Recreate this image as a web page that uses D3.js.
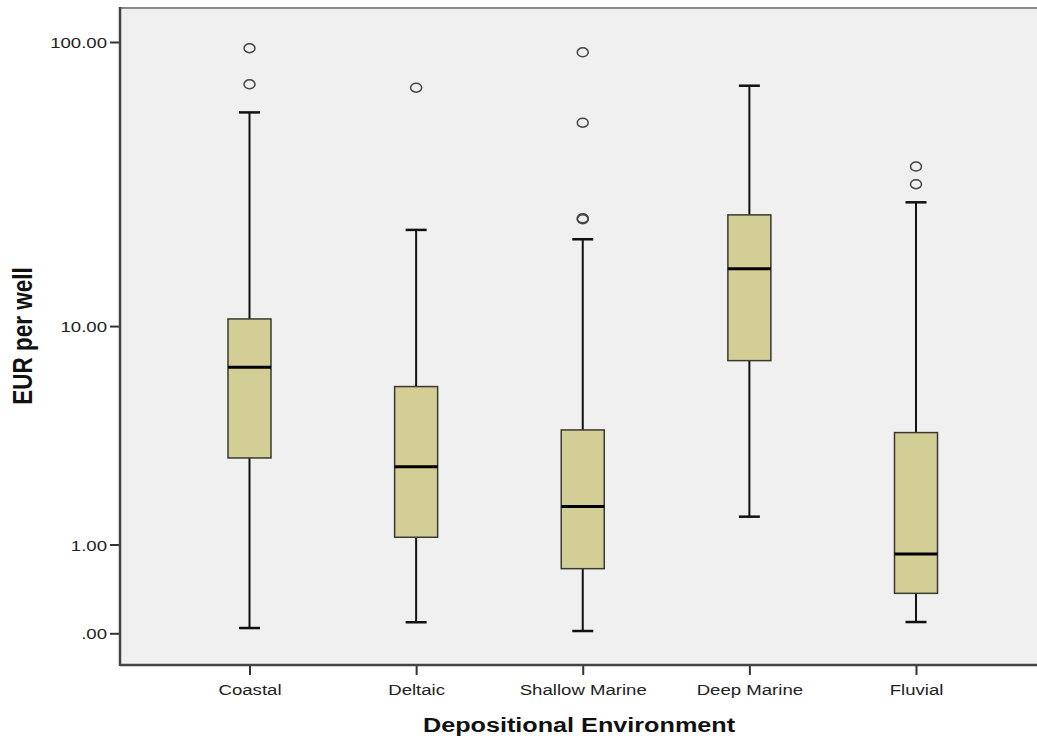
<!DOCTYPE html>
<html><head><meta charset="utf-8">
<script src="https://cdn.jsdelivr.net/npm/d3@7"></script>
<style>
html,body{margin:0;padding:0;background:#fff;}
svg{display:block;font-family:"Liberation Sans",Arial,sans-serif;}
</style></head>
<body>
<svg id="chart" width="1037" height="738"></svg>
<script>
// ---- data (EUR per well) ----
const categories  = ["Coastal", "Deltaic", "Shallow Marine", "Deep Marine", "Fluvial"];
const whiskerLow  = [0.042, 0.09, 0.018, 1.485, 0.092];
const q1          = [2.93, 1.116, 0.656, 7.40, 0.366];
const median      = [6.97, 2.67, 1.69, 16.2, 0.857];
const q3          = [10.63, 5.86, 3.89, 25.2, 3.79];
const whiskerHigh = [57.3, 22.3, 20.66, 70.8, 27.9];
const outliers    = [[95.2, 71.6], [69.7], [92.2, 52.8, 24.3, 24.5], [], [37.2, 32.3]];
const yTickValues = [0, 1, 10, 100];
const yTickLabels = [".00", "1.00", "10.00", "100.00"];
const xTitle = "Depositional Environment";
const yTitle = "EUR per well";

// ---- layout ----
const svg = d3.select("#chart");
const frame = {left: 120, top: 8, right: 1037, bottom: 665};
const SX = 1.2; // horizontal stretch of the reference text

const x = d3.scalePoint().domain(categories).range([249.5, 916]).padding(0);
const y = d3.scaleSymlog().constant(1).domain([0, 100]).range([633.3, 42]);

// plot background
svg.append("rect")
  .attr("x", frame.left).attr("y", frame.top)
  .attr("width", frame.right - frame.left).attr("height", frame.bottom - frame.top)
  .attr("fill", "#f0f0f0");
// top border
svg.append("line").attr("x1", frame.left).attr("x2", frame.right)
  .attr("y1", frame.top).attr("y2", frame.top)
  .attr("stroke", "#8a8a8a").attr("stroke-width", 2);

const boxes = categories.map((c, i) => ({
  c, lo: whiskerLow[i], q1: q1[i], med: median[i], q3: q3[i], hi: whiskerHigh[i], out: outliers[i]
}));

const boxW = 43, capW = 21;
const g = svg.append("g");
const bg = g.selectAll("g.box").data(boxes).join("g").attr("class", "box");

// whiskers
bg.append("line")
  .attr("x1", d => x(d.c)).attr("x2", d => x(d.c))
  .attr("y1", d => y(d.q3)).attr("y2", d => y(d.hi))
  .attr("stroke", "#111").attr("stroke-width", 2);
bg.append("line")
  .attr("x1", d => x(d.c)).attr("x2", d => x(d.c))
  .attr("y1", d => y(d.q1)).attr("y2", d => y(d.lo))
  .attr("stroke", "#111").attr("stroke-width", 2);
// caps
bg.append("line")
  .attr("x1", d => x(d.c) - capW / 2).attr("x2", d => x(d.c) + capW / 2)
  .attr("y1", d => y(d.hi)).attr("y2", d => y(d.hi))
  .attr("stroke", "#111").attr("stroke-width", 2.5);
bg.append("line")
  .attr("x1", d => x(d.c) - capW / 2).attr("x2", d => x(d.c) + capW / 2)
  .attr("y1", d => y(d.lo)).attr("y2", d => y(d.lo))
  .attr("stroke", "#111").attr("stroke-width", 2.5);
// box
bg.append("rect")
  .attr("x", d => x(d.c) - boxW / 2).attr("width", boxW)
  .attr("y", d => y(d.q3)).attr("height", d => y(d.q1) - y(d.q3))
  .attr("fill", "#d3ce96").attr("stroke", "#3a3a30").attr("stroke-width", 1.5);
// median
bg.append("line")
  .attr("x1", d => x(d.c) - boxW / 2).attr("x2", d => x(d.c) + boxW / 2)
  .attr("y1", d => y(d.med)).attr("y2", d => y(d.med))
  .attr("stroke", "#000").attr("stroke-width", 3);
// outliers
bg.selectAll("ellipse").data(d => d.out.map(v => ({c: d.c, v}))).join("ellipse")
  .attr("cx", d => x(d.c)).attr("cy", d => y(d.v))
  .attr("rx", 5.5).attr("ry", 4.5)
  .attr("fill", "none").attr("stroke", "#444").attr("stroke-width", 1.5);

// ---- axes ----
const yAxis = d3.axisLeft(y).tickValues(yTickValues)
  .tickFormat((d, i) => yTickLabels[i]).tickSize(10).tickPadding(3);
const ya = svg.append("g").attr("transform", `translate(${frame.left},0)`).call(yAxis);
ya.select(".domain").remove();
ya.selectAll(".tick line").attr("stroke", "#333").attr("stroke-width", 2);
ya.selectAll(".tick text")
  .attr("font-size", 15.5).attr("fill", "#222")
  .attr("font-family", "'Liberation Sans', Arial, sans-serif")
  .attr("dy", "0.36em")
  .attr("transform", function () { const xx = +d3.select(this).attr("x"); return `translate(${xx},0) scale(${SX},1) translate(${-xx},0)`; });

const xAxis = d3.axisBottom(x).tickSize(10).tickPadding(6);
const xa = svg.append("g").attr("transform", `translate(0,${frame.bottom})`).call(xAxis);
xa.select(".domain").remove();
xa.selectAll(".tick line").attr("stroke", "#333").attr("stroke-width", 2);
xa.selectAll(".tick text")
  .attr("font-size", 15.5).attr("fill", "#222")
  .attr("font-family", "'Liberation Sans', Arial, sans-serif")
  .attr("dy", "0.9em")
  .attr("transform", `scale(${SX},1)`);

// frame lines (left & bottom axis lines)
svg.append("line").attr("x1", frame.left).attr("x2", frame.left)
  .attr("y1", frame.top - 1).attr("y2", frame.bottom + 1)
  .attr("stroke", "#444").attr("stroke-width", 2.5);
svg.append("line").attr("x1", frame.left).attr("x2", frame.right)
  .attr("y1", frame.bottom).attr("y2", frame.bottom)
  .attr("stroke", "#444").attr("stroke-width", 2.5);

// titles
svg.append("text")
  .attr("transform", `translate(579,732) scale(${SX},1)`)
  .attr("text-anchor", "middle").attr("font-weight", "bold")
  .attr("font-size", 21).attr("fill", "#111").text(xTitle);
svg.append("text")
  .attr("transform", `translate(31.5,336) scale(${SX},1) rotate(-90)`)
  .attr("text-anchor", "middle").attr("font-weight", "bold")
  .attr("font-size", 22.5).attr("fill", "#111").text(yTitle);
</script>
</body></html>
